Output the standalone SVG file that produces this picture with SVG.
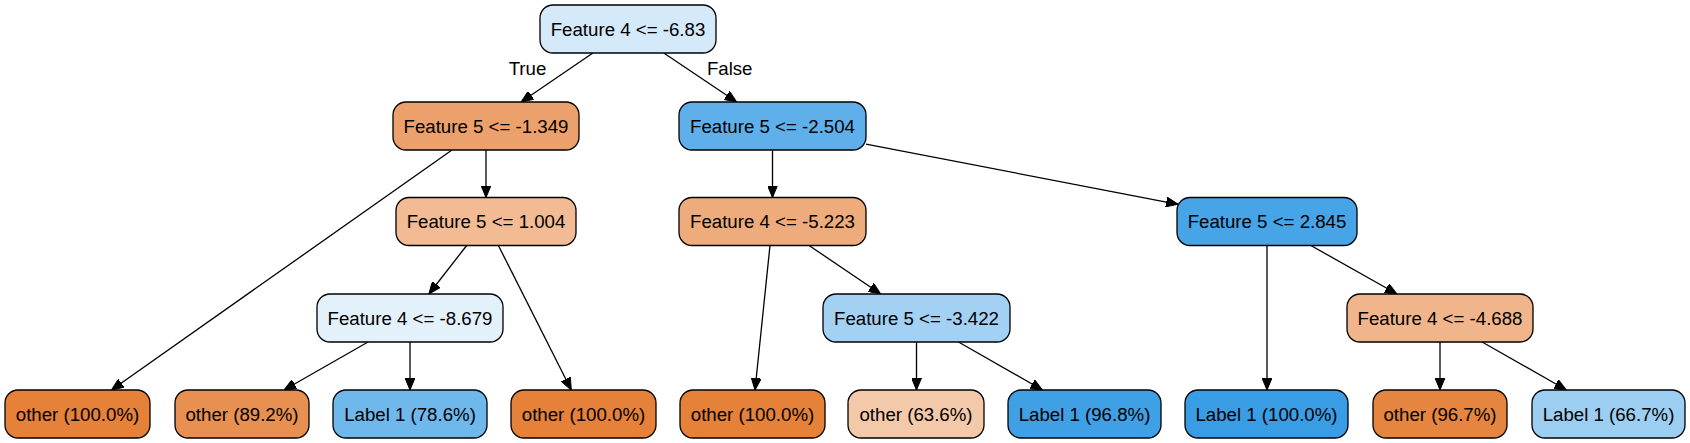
<svg xmlns="http://www.w3.org/2000/svg" width="1690" height="443" viewBox="0 0 1690 443">
<defs>
<marker id="arr" viewBox="0 0 12 10" refX="12" refY="5" markerWidth="12" markerHeight="10" markerUnits="userSpaceOnUse" orient="auto">
<path d="M0,0 L12,5 L0,10 z" fill="#000" stroke="#000" stroke-width="1"/>
</marker>
</defs>
<style>
.n rect{stroke:#000;stroke-width:1.3}
.n text,.lbl{font-family:"Liberation Sans",Arial,sans-serif;font-size:18.67px;fill:#000;text-anchor:middle}
#edges line{stroke:#000;stroke-width:1.3;marker-end:url(#arr)}
</style>
<rect width="1690" height="443" fill="#fff"/>
<g id="edges">
<line x1="592.9" y1="53" x2="521.1" y2="102"/>
<line x1="663.8" y1="53" x2="736.7" y2="102"/>
<line x1="452" y1="150" x2="111.5" y2="390"/>
<line x1="486" y1="150" x2="486" y2="197.5"/>
<line x1="466.7" y1="245.5" x2="428.9" y2="294"/>
<line x1="498.4" y1="245.5" x2="571.3" y2="390"/>
<line x1="368" y1="342" x2="284" y2="390"/>
<line x1="410" y1="342" x2="410" y2="390"/>
<line x1="772.5" y1="150" x2="772.5" y2="197.5"/>
<line x1="866" y1="144.1" x2="1178" y2="204.3"/>
<line x1="770" y1="245.5" x2="755" y2="390"/>
<line x1="809.1" y1="245.5" x2="880.7" y2="294"/>
<line x1="916.5" y1="342" x2="916.5" y2="390"/>
<line x1="958.5" y1="342" x2="1042.5" y2="390"/>
<line x1="1267" y1="245.5" x2="1267" y2="390"/>
<line x1="1310.9" y1="245.5" x2="1397" y2="294"/>
<line x1="1440" y1="342" x2="1440" y2="390"/>
<line x1="1482.1" y1="342" x2="1566.4" y2="390"/>
<text class="lbl" x="527.5" y="75">True</text>
<text class="lbl" x="729.7" y="75">False</text>
</g>
<g id="n0" class="n"><rect x="540" y="5" width="176" height="48" rx="13" fill="#d4e9f9"/><text x="628" y="35.7">Feature 4 &lt;= -6.83</text></g>
<g id="n1" class="n"><rect x="393" y="102" width="186" height="48" rx="13" fill="#eca16c"/><text x="486" y="132.7">Feature 5 &lt;= -1.349</text></g>
<g id="n2" class="n"><rect x="679" y="102" width="187" height="48" rx="13" fill="#5eafea"/><text x="772.5" y="132.7">Feature 5 &lt;= -2.504</text></g>
<g id="n3" class="n"><rect x="396" y="197.5" width="180" height="48" rx="13" fill="#f2bb93"/><text x="486" y="228.2">Feature 5 &lt;= 1.004</text></g>
<g id="n4" class="n"><rect x="679" y="197.5" width="187" height="48" rx="13" fill="#eeab7b"/><text x="772.5" y="228.2">Feature 4 &lt;= -5.223</text></g>
<g id="n5" class="n"><rect x="1177" y="197.5" width="180" height="48" rx="13" fill="#47a4e7"/><text x="1267" y="228.2">Feature 5 &lt;= 2.845</text></g>
<g id="n6" class="n"><rect x="317" y="294" width="186" height="48" rx="13" fill="#e3f1fb"/><text x="410" y="324.7">Feature 4 &lt;= -8.679</text></g>
<g id="n7" class="n"><rect x="823" y="294" width="187" height="48" rx="13" fill="#a2d1f3"/><text x="916.5" y="324.7">Feature 5 &lt;= -3.422</text></g>
<g id="n8" class="n"><rect x="1347" y="294" width="186" height="48" rx="13" fill="#f1b58b"/><text x="1440" y="324.7">Feature 4 &lt;= -4.688</text></g>
<g id="l1" class="n"><rect x="5" y="390" width="145" height="48" rx="13" fill="#e58139"/><text x="77.5" y="420.7">other (100.0%)</text></g>
<g id="l2" class="n"><rect x="175" y="390" width="134" height="48" rx="13" fill="#e89051"/><text x="242" y="420.7">other (89.2%)</text></g>
<g id="l3" class="n"><rect x="333" y="390" width="154" height="48" rx="13" fill="#6fb8ec"/><text x="410" y="420.7">Label 1 (78.6%)</text></g>
<g id="l4" class="n"><rect x="511" y="390" width="145" height="48" rx="13" fill="#e58139"/><text x="583.5" y="420.7">other (100.0%)</text></g>
<g id="l5" class="n"><rect x="680" y="390" width="145" height="48" rx="13" fill="#e58139"/><text x="752.5" y="420.7">other (100.0%)</text></g>
<g id="l6" class="n"><rect x="848" y="390" width="136" height="48" rx="13" fill="#f4c9aa"/><text x="916" y="420.7">other (63.6%)</text></g>
<g id="l7" class="n"><rect x="1008" y="390" width="153" height="48" rx="13" fill="#40a0e6"/><text x="1084.5" y="420.7">Label 1 (96.8%)</text></g>
<g id="l8" class="n"><rect x="1185" y="390" width="163" height="48" rx="13" fill="#399de5"/><text x="1266.5" y="420.7">Label 1 (100.0%)</text></g>
<g id="l9" class="n"><rect x="1373" y="390" width="134" height="48" rx="13" fill="#e6853f"/><text x="1440" y="420.7">other (96.7%)</text></g>
<g id="l10" class="n"><rect x="1532" y="390" width="153" height="48" rx="13" fill="#9ccef2"/><text x="1608.5" y="420.7">Label 1 (66.7%)</text></g>
</svg>
